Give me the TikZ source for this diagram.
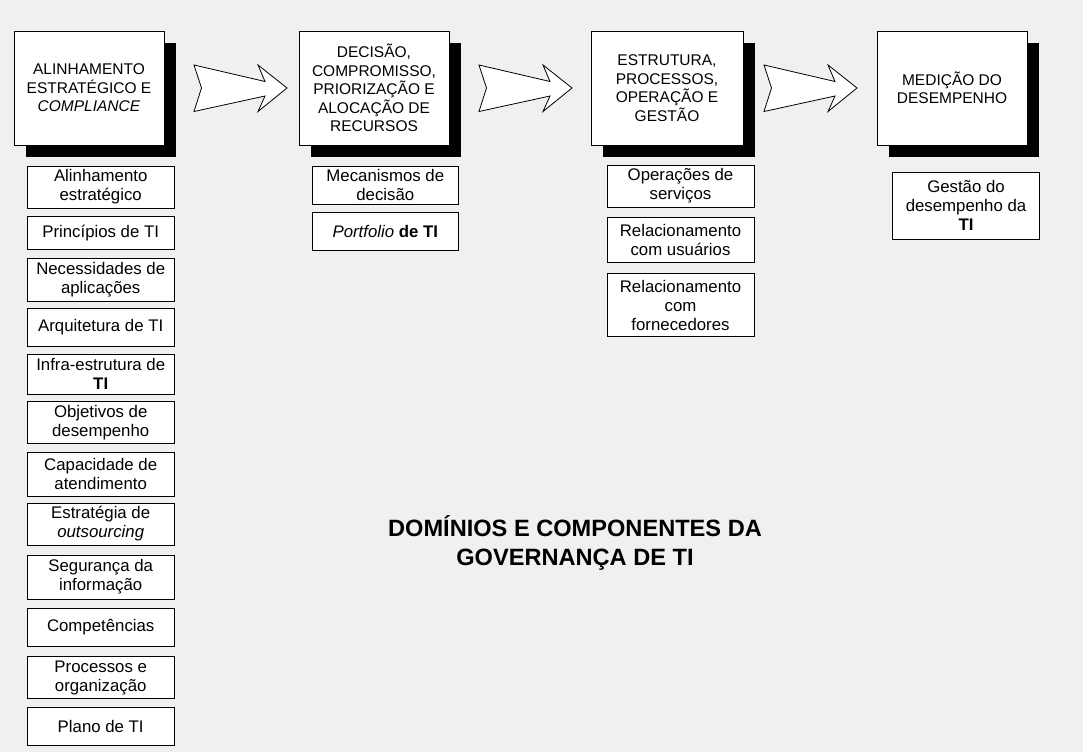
\documentclass[tikz,border=0pt]{standalone}
\usepackage{fontspec}
\setmainfont{Liberation Sans}
\usetikzlibrary{shadows}

\definecolor{bggray}{HTML}{F0F0F0}

\tikzset{
  dombox/.style={draw,fill=white,line width=0.8pt,minimum width=150pt,minimum height=114pt,
    align=center,inner sep=2pt,font=\fontsize{15.5}{18.5}\selectfont,
    drop shadow={shadow xshift=12pt,shadow yshift=-12pt,opacity=1,fill=black}},
  compbox/.style={draw,fill=white,line width=0.8pt,minimum width=147pt,align=center,
    inner sep=1pt,font=\fontsize{16.8}{19}\selectfont},
  bigarrow/.style={draw,fill=white,line width=0.8pt,line join=miter}
}

\begin{document}
\begin{tikzpicture}[x=1pt,y=-1pt]
\fill[bggray] (0,0) rectangle (1083,752);
\useasboundingbox (0,0) rectangle (1083,752);

% domains
\node[dombox] (alinh) at (89,88) {ALINHAMENTO\\ESTRATÉGICO E\\\textit{COMPLIANCE}};
\node[dombox] (decis) at (374,88) {DECISÃO,\\COMPROMISSO,\\PRIORIZAÇÃO E\\ALOCAÇÃO DE\\RECURSOS};
\node[dombox,minimum width=152pt] (estru) at (667,88) {ESTRUTURA,\\PROCESSOS,\\OPERAÇÃO E\\GESTÃO};
\node[dombox] (medic) at (952,88) {MEDIÇÃO DO\\DESEMPENHO};

% arrows between domains
\foreach \ax in {194,479,764}
  \draw[bigarrow] (\ax,65) -- (\ax+71,81.5) -- (\ax+64,65) -- (\ax+93,88)
    -- (\ax+64,111.5) -- (\ax+71,96) -- (\ax,111.5) -- (\ax+7.5,88) -- cycle;

% components: alinhamento
\node[compbox,minimum height=42pt] (a1) at (100.7,187) {Alinhamento\\estratégico};
\node[compbox,minimum height=33pt] (a2) at (100.7,233) {Princípios de TI};
\node[compbox,minimum height=43pt] (a3) at (100.7,280) {Necessidades de\\aplicações};
\node[compbox,minimum height=38pt] (a4) at (100.7,327) {Arquitetura de TI};
\node[compbox,minimum height=40pt] (a5) at (100.7,374) {Infra-estrutura de\\\textbf{TI}};
\node[compbox,minimum height=41.5pt] (a6) at (100.7,422.5) {Objetivos de\\desempenho};
\node[compbox,minimum height=44pt] (a7) at (100.7,474) {Capacidade de\\atendimento};
\node[compbox,minimum height=42pt] (a8) at (100.7,524) {Estratégia de\\\textit{outsourcing}};
\node[compbox,minimum height=44pt] (a9) at (100.7,577) {Segurança da\\informação};
\node[compbox,minimum height=38.5pt] (a10) at (100.7,627.5) {Competências};
\node[compbox,minimum height=41.5pt] (a11) at (100.7,677.5) {Processos e\\organização};
\node[compbox,minimum height=38pt] (a12) at (100.7,726) {Plano de TI};

% components: decisao
\node[compbox,minimum width=146pt,minimum height=38pt] (d1) at (385.3,185) {Mecanismos de\\decisão};
\node[compbox,minimum width=146pt,minimum height=38pt] (d2) at (385.3,231) {\textit{Portfolio} \textbf{de TI}};

% components: estrutura
\node[compbox,minimum height=42pt] (e1) at (680.5,186) {Operações de\\serviços};
\node[compbox,minimum height=45pt] (e2) at (680.5,239.5) {Relacionamento\\com usuários};
\node[compbox,minimum height=63pt] (e3) at (680.5,305) {Relacionamento\\com\\fornecedores};

% components: medicao
\node[compbox,minimum height=67pt] (m1) at (966,205.7) {Gestão do\\desempenho da\\\textbf{TI}};

% title
\node[align=center,font=\fontsize{23.6}{29.5}\selectfont\bfseries] (title) at (575,543)
  {DOMÍNIOS E COMPONENTES DA\\GOVERNANÇA DE TI};
\end{tikzpicture}
\end{document}
